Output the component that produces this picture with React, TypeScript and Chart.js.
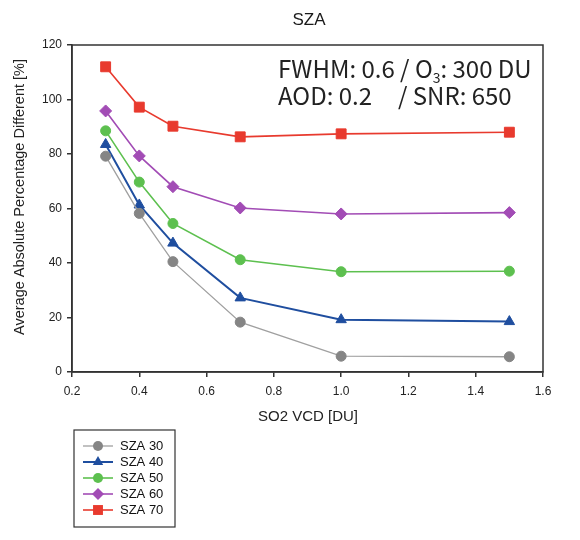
import React, { useEffect, useRef } from "react";
import { Chart, registerables } from "chart.js";

Chart.register(...registerables);

const xValues = [0.3, 0.4, 0.5, 0.7, 1.0, 1.5];
const seriesLabels = ["SZA 30", "SZA 40", "SZA 50", "SZA 60", "SZA 70"];
const sza30 = [79.2, 58.2, 40.5, 18.3, 5.8, 5.6];
const sza40 = [83.5, 61.3, 47.3, 27.2, 19.2, 18.5];
const sza50 = [88.5, 69.7, 54.5, 41.2, 36.8, 37.0];
const sza60 = [95.8, 79.3, 68.0, 60.2, 58.0, 58.5];
const sza70 = [112.0, 97.2, 90.2, 86.3, 87.4, 88.0];
const yTicks = [0, 20, 40, 60, 80, 100, 120];
const xTicks = [0.2, 0.4, 0.6, 0.8, 1.0, 1.2, 1.4, 1.6];

const FONT = "'Liberation Sans', Arial, sans-serif";
const NOTE_FONT = "'Noto Sans CJK KR', 'Noto Sans', sans-serif";

function drawMarker(ctx: CanvasRenderingContext2D, style: string, r: number, x: number, y: number) {
  ctx.beginPath();
  if (style === "circle") {
    ctx.arc(x, y, r, 0, Math.PI * 2);
  } else if (style === "triangle") {
    ctx.moveTo(x, y - r);
    ctx.lineTo(x + r * 0.866, y + r * 0.5);
    ctx.lineTo(x - r * 0.866, y + r * 0.5);
    ctx.closePath();
  } else if (style === "rectRot") {
    ctx.moveTo(x, y - r);
    ctx.lineTo(x + r, y);
    ctx.lineTo(x, y + r);
    ctx.lineTo(x - r, y);
    ctx.closePath();
  } else {
    const s = r * Math.SQRT1_2;
    ctx.rect(x - s, y - s, 2 * s, 2 * s);
  }
  ctx.fill();
}

export default function App() {
  const ref = useRef<HTMLCanvasElement | null>(null);
  useEffect(() => {
    if (!ref.current) return;
    const styles = [
      { color: "#858585", line: "#a0a0a0", ps: "circle", r: 5, w: 1.3 },
      { color: "#1f4e9f", line: "#1f4e9f", ps: "triangle", r: 6, w: 2 },
      { color: "#5dc04f", line: "#5dc04f", ps: "circle", r: 5, w: 1.6 },
      { color: "#a24cb5", line: "#a24cb5", ps: "rectRot", r: 6, w: 1.6 },
      { color: "#e83a2e", line: "#e83a2e", ps: "rect", r: 7, w: 1.6 },
    ];
    const all = [sza30, sza40, sza50, sza60, sza70];
    const datasets = all.map((vals, i) => ({
      label: seriesLabels[i],
      data: vals.map((v, j) => ({ x: xValues[j], y: v })),
      borderColor: styles[i].line,
      backgroundColor: styles[i].color,
      pointBackgroundColor: styles[i].color,
      pointBorderColor: styles[i].color,
      pointStyle: styles[i].ps as any,
      pointRadius: styles[i].r,
      borderWidth: styles[i].w,
      pointBorderWidth: 1,
      tension: 0,
    }));

    const deco = {
      id: "deco",
      afterDraw(chart: any) {
        const ctx = chart.ctx as CanvasRenderingContext2D;
        const a = chart.chartArea;
        ctx.save();
        // frame
        ctx.strokeStyle = "#333";
        ctx.lineWidth = 1.5;
        ctx.strokeRect(a.left, a.top, a.right - a.left, a.bottom - a.top);
        // title
        ctx.fillStyle = "#1a1a1a";
        ctx.font = `17px ${FONT}`;
        ctx.textAlign = "center";
        ctx.textBaseline = "middle";
        ctx.fillText("SZA", 309, 20);
        // x title
        ctx.font = `15px ${FONT}`;
        ctx.fillStyle = "#222";
        ctx.fillText("SO2 VCD [DU]", 308, 417);
        // y title
        ctx.save();
        ctx.translate(20, 197);
        ctx.rotate(-Math.PI / 2);
        ctx.font = `14.5px ${FONT}`;
        ctx.fillText("Average Absolute Percentage Different [%]", 0, 0);
        ctx.restore();
        // note
        ctx.fillStyle = "#222";
        ctx.textAlign = "left";
        ctx.textBaseline = "alphabetic";
        ctx.font = `24px ${NOTE_FONT}`;
        let x = 278;
        const y1 = 78;
        const p1 = "FWHM: 0.6 / O";
        ctx.fillText(p1, x, y1);
        x += ctx.measureText(p1).width;
        ctx.font = `14px ${NOTE_FONT}`;
        ctx.fillText("3", x, y1 + 5);
        x += ctx.measureText("3").width;
        ctx.font = `24px ${NOTE_FONT}`;
        ctx.fillText(": 300 DU", x, y1);
        ctx.fillText("AOD: 0.2", 278, 105);
        ctx.fillText("/ SNR: 650", 398, 105);
        // legend
        const lx = 74, ly = 430, lw = 101, lh = 97;
        ctx.strokeStyle = "#333";
        ctx.lineWidth = 1.2;
        ctx.strokeRect(lx, ly, lw, lh);
        ctx.font = `13px ${FONT}`;
        ctx.textBaseline = "middle";
        chart.data.datasets.forEach((ds: any, i: number) => {
          const yy = 446 + i * 16;
          ctx.strokeStyle = ds.borderColor;
          ctx.lineWidth = ds.borderWidth;
          ctx.beginPath();
          ctx.moveTo(83, yy);
          ctx.lineTo(113, yy);
          ctx.stroke();
          ctx.fillStyle = ds.pointBackgroundColor;
          drawMarker(ctx, ds.pointStyle, ds.pointRadius, 98, yy);
          ctx.fillStyle = "#111";
          ctx.fillText(ds.label, 120, yy);
        });
        ctx.restore();
      },
    };

    const chart = new Chart(ref.current, {
      type: "line",
      data: { datasets },
      options: {
        animation: false,
        responsive: false,
        layout: { padding: { top: 45, right: 37, bottom: 118, left: 0 } },
        plugins: { legend: { display: false }, title: { display: false }, tooltip: { enabled: false } },
        scales: {
          x: {
            type: "linear",
            min: 0.2,
            max: 1.6,
            afterBuildTicks: (s: any) => { s.ticks = xTicks.map((v) => ({ value: v })); },
            afterFit: (s: any) => { s.height = 50; },
            grid: { display: true, drawOnChartArea: false, drawTicks: true, tickLength: 5, color: "#333", lineWidth: 1.5 },
            border: { display: true, color: "#333", width: 1.5 },
            ticks: { color: "#222", font: { size: 12, family: FONT }, padding: 7, maxRotation: 0, callback: (v: any) => Number(v).toFixed(1) },
            title: { display: false },
          },
          y: {
            min: 0,
            max: 120,
            afterBuildTicks: (s: any) => { s.ticks = yTicks.map((v) => ({ value: v })); },
            afterFit: (s: any) => { s.width = 72; },
            grid: { display: true, drawOnChartArea: false, drawTicks: true, tickLength: 5, color: "#333", lineWidth: 1.5 },
            border: { display: true, color: "#333", width: 1.5 },
            ticks: { color: "#222", font: { size: 12, family: FONT }, padding: 5 },
            title: { display: false },
          },
        },
      },
      plugins: [deco],
    } as any);
    return () => chart.destroy();
  }, []);

  return (
    <div style={{ position: "fixed", left: 0, top: 0, width: 580, height: 540, background: "#fff" }}>
      <canvas ref={ref} width={580} height={540} style={{ width: 580, height: 540 }} />
    </div>
  );
}
